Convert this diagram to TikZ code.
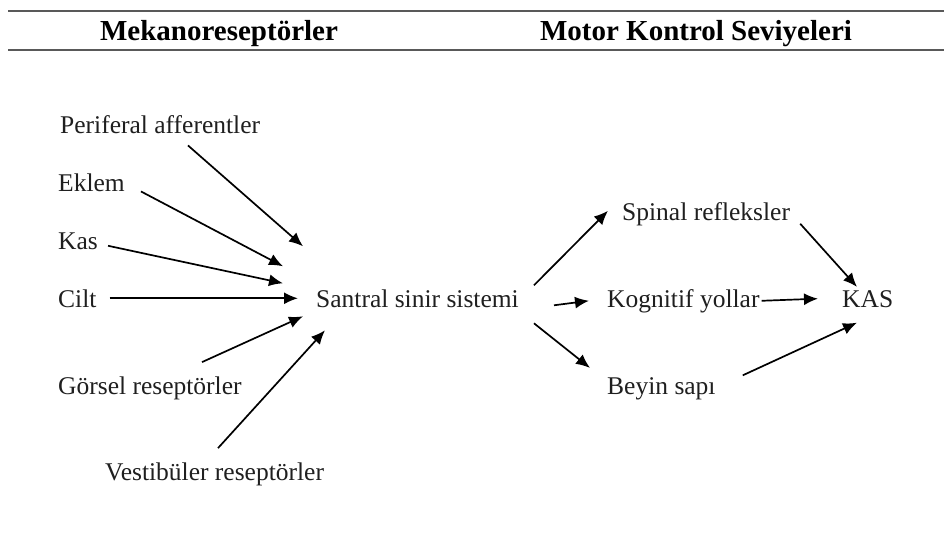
\documentclass[tikz,border=0pt]{standalone}
\usepackage{fontspec}
\setmainfont{Liberation Serif}
\usetikzlibrary{arrows.meta,calc}
\begin{document}
\begin{tikzpicture}[x=1pt,y=-1pt,
  lbl/.style={inner sep=0pt,anchor=base west,font=\fontsize{25.5}{30}\selectfont,text=black!88},
  head/.style={inner sep=0pt,anchor=base,font=\fontsize{29}{34}\selectfont\bfseries},
  rule/.style={line width=2.4pt,draw=black!65},
  arr/.style={line width=1.7pt,-{Latex[length=14pt,width=12pt]}}]
\useasboundingbox[fill=white] (0,0) rectangle (944,547);
% header rules and titles
\coordinate (r1a) at (8,11);  \coordinate (r1b) at (944,11);
\coordinate (r2a) at (8,50);  \coordinate (r2b) at (944,50);
\draw[rule] (r1a) -- (r1b);
\draw[rule] (r2a) -- (r2b);
\node[head] (h1) at (219,40) {Mekanoreseptörler};
\node[head] (h2) at (696,40) {Motor Kontrol Seviyeleri};
% receptor labels
\node[lbl] (per) at (60,133) {Periferal afferentler};
\node[lbl] (ekl) at (58,191) {Eklem};
\node[lbl] (kas) at (58,249) {Kas};
\node[lbl] (cil) at (58,307) {Cilt};
\node[lbl] (gor) at (58,394) {Görsel reseptörler};
\node[lbl] (ves) at (105,480) {Vestibüler reseptörler};
% centre and motor levels
\node[lbl] (sss) at (316,307) {Santral sinir sistemi};
\node[lbl] (spi) at (622,220) {Spinal refleksler};
\node[lbl] (kog) at (607,307) {Kognitif yollar};
\node[lbl] (bey) at (607,394) {Beyin sapı};
\node[lbl] (kms) at (842,307) {KAS};
% inputs to the central nervous system
\draw[arr] ($(per.south west)+(128,12)$) -- ($(sss.west)+(-13,-52)$);
\draw[arr] ($(ekl.south west)+(83,0)$) -- ($(sss.west)+(-33,-32)$);
\draw[arr] ($(kas.east)+(10,5)$) -- ($(sss.west)+(-33,-15)$);
\draw[arr] ($(cil.east)+(13,0)$) -- ($(sss.west)+(-18,0)$);
\draw[arr] ($(gor.north west)+(144,-14)$) -- ($(sss.west)+(-13,18)$);
\draw[arr] ($(ves.north west)+(113,-14)$) -- ($(sss.west)+(9,32)$);
% outputs to motor control levels
\draw[arr] ($(sss.east)+(15,-13)$) -- ($(spi.west)+(-14,-3)$);
\draw[arr] ($(sss.east)+(35,7)$) -- ($(kog.west)+(-18,0)$);
\draw[arr] ($(sss.east)+(15,25)$) -- ($(bey.north west)+(-17,-9)$);
% levels to muscle
\draw[arr] ($(spi.east)+(10,10)$) -- ($(kms.north west)+(15,-3)$);
\draw[arr] ($(kog.east)+(2,0)$) -- ($(kms.west)+(-24,0)$);
\draw[arr] ($(bey.east)+(27,-13)$) -- ($(kms.west)+(15,24)$);
\end{tikzpicture}
\end{document}
